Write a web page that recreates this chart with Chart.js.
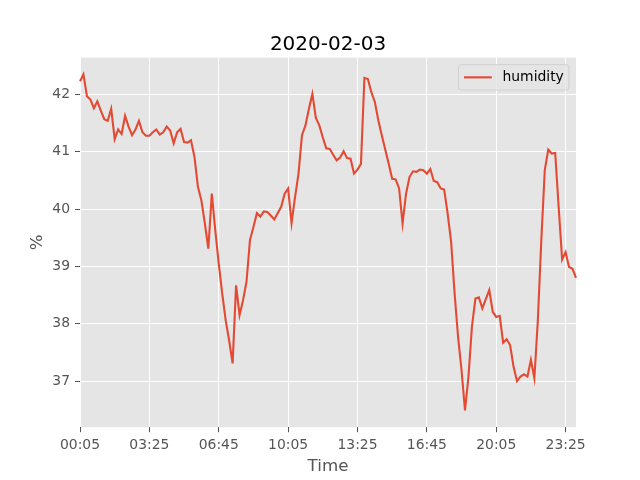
<!DOCTYPE html>
<html>
<head>
<meta charset="utf-8">
<script src="https://cdn.jsdelivr.net/npm/chart.js@4/dist/chart.umd.min.js"></script>
<style>
  html, body { margin: 0; padding: 0; background: #fff; }
  #wrap { width: 640px; height: 480px; }
</style>
</head>
<body>
<div id="wrap"><canvas id="c" width="640" height="480"></canvas></div>
<script>
// readings every 10 minutes, 00:05 .. 23:55
const TITLE = '2020-02-03';
const SERIES_NAME = 'humidity';

const humidity = [
  42.23, 42.35, 41.97, 41.91, 41.76, 41.88, 41.72, 41.57, 41.54, 41.75,
  41.22, 41.39, 41.31, 41.63, 41.44, 41.29, 41.39, 41.54, 41.34, 41.28,
  41.28, 41.34, 41.39, 41.30, 41.34, 41.44, 41.37, 41.15, 41.34, 41.40,
  41.17, 41.16, 41.20, 40.91, 40.39, 40.15, 39.75, 39.31, 40.27, 39.63,
  39.05, 38.53, 38.06, 37.71, 37.31, 38.67, 38.15, 38.41, 38.73, 39.46,
  39.69, 39.93, 39.87, 39.96, 39.95, 39.89, 39.82, 39.93, 40.04, 40.27,
  40.36, 39.76, 40.21, 40.62, 41.29, 41.46, 41.75, 42.01, 41.59, 41.46,
  41.25, 41.06, 41.05, 40.95, 40.85, 40.90, 41.01, 40.89, 40.88, 40.62,
  40.69, 40.79, 42.29, 42.27, 42.04, 41.87, 41.55, 41.29, 41.04, 40.79,
  40.53, 40.52, 40.36, 39.75, 40.27, 40.56, 40.66, 40.65, 40.69, 40.68,
  40.62, 40.70, 40.49, 40.47, 40.36, 40.34, 39.92, 39.43, 38.53, 37.77,
  37.19, 36.49, 37.08, 37.95, 38.44, 38.46, 38.27, 38.43, 38.59, 38.21,
  38.12, 38.14, 37.67, 37.73, 37.63, 37.25, 37.00, 37.08, 37.12, 37.08,
  37.37, 37.05, 38.06, 39.46, 40.68, 41.04, 40.97, 40.98, 40.04, 39.12,
  39.25, 38.99, 38.96, 38.80
];

const xTickLabels = ['00:05', '03:25', '06:45', '10:05', '13:25', '16:45', '20:05', '23:25'];
const yTicks = [37, 38, 39, 40, 41, 42];

// time categories
const times = [];
for (let k = 0; k < humidity.length; k++) {
  const m = 5 + k * 10;
  times.push(String(Math.floor(m / 60)).padStart(2, '0') + ':' + String(m % 60).padStart(2, '0'));
}

const FONT = "'DejaVu Sans', sans-serif";
const LINE = '#E24A33';
const AX = { left: 80, right: 576, top: 57.6, bottom: 427.2 };

const decor = {
  id: 'decor',
  beforeDraw(chart) {
    const { ctx, chartArea: a } = chart;
    ctx.save();
    ctx.fillStyle = '#E5E5E5';
    ctx.fillRect(a.left, a.top, a.right - a.left, a.bottom - a.top);
    ctx.restore();
  },
  afterDraw(chart) {
    const { ctx, chartArea: a } = chart;
    const cx = (a.left + a.right) / 2;
    ctx.save();
    // title
    ctx.fillStyle = '#000';
    ctx.font = '20px ' + FONT;
    ctx.textAlign = 'center';
    ctx.textBaseline = 'alphabetic';
    ctx.fillText(TITLE, cx, 49.5);
    // axis labels
    ctx.fillStyle = '#555555';
    ctx.font = '16.7px ' + FONT;
    ctx.fillText('Time', cx, 471);
    ctx.translate(37.5, (a.top + a.bottom) / 2);
    ctx.rotate(-Math.PI / 2);
    ctx.textBaseline = 'middle';
    ctx.fillText('%', 0, 0);
    ctx.restore();

    // legend, upper right
    ctx.save();
    const bx = 458.5, by = 64.6, bw = 110.5, bh = 25.5;
    ctx.beginPath();
    ctx.roundRect(bx, by, bw, bh, 3);
    ctx.fillStyle = 'rgba(229,229,229,0.8)';
    ctx.fill();
    ctx.strokeStyle = 'rgba(204,204,204,0.8)';
    ctx.lineWidth = 1;
    ctx.stroke();
    const ly = by + bh / 2;
    ctx.beginPath();
    ctx.moveTo(bx + 5.5, ly);
    ctx.lineTo(bx + 33.3, ly);
    ctx.strokeStyle = LINE;
    ctx.lineWidth = 2.1;
    ctx.stroke();
    ctx.fillStyle = '#000';
    ctx.font = '13.9px ' + FONT;
    ctx.textAlign = 'left';
    ctx.textBaseline = 'middle';
    ctx.fillText(SERIES_NAME, bx + 44, ly);
    ctx.restore();
  }
};

new Chart(document.getElementById('c'), {
  type: 'line',
  data: {
    labels: times,
    datasets: [{
      label: SERIES_NAME,
      data: humidity,
      borderColor: LINE,
      borderWidth: 2.1,
      pointRadius: 0,
      tension: 0,
      fill: false
    }]
  },
  options: {
    responsive: false,
    animation: false,
    layout: { padding: { left: 0, right: 640 - AX.right, top: AX.top, bottom: 0 } },
    plugins: { legend: { display: false }, title: { display: false }, tooltip: { enabled: false } },
    scales: {
      x: {
        type: 'category',
        offset: false,
        afterFit(s) { s.height = 480 - AX.bottom; },
        afterBuildTicks(s) {
          s.ticks = s.ticks.filter(t => xTickLabels.includes(times[t.value]));
        },
        grid: { color: '#ffffff', lineWidth: 1, tickColor: '#555555', tickLength: 5, drawTicks: true },
        border: { display: false },
        ticks: { autoSkip: false, maxRotation: 0, padding: 5, color: '#555555', font: { family: FONT, size: 13.9 } }
      },
      y: {
        type: 'linear',
        min: 36.197,
        max: 42.643,
        afterFit(s) { s.width = AX.left; },
        afterBuildTicks(s) { s.ticks = yTicks.map(v => ({ value: v })); },
        grid: { color: '#ffffff', lineWidth: 1, tickColor: '#555555', tickLength: 5, drawTicks: true },
        border: { display: false },
        ticks: { padding: 5, color: '#555555', font: { family: FONT, size: 13.9 } }
      }
    }
  },
  plugins: [decor]
});
</script>
</body>
</html>
